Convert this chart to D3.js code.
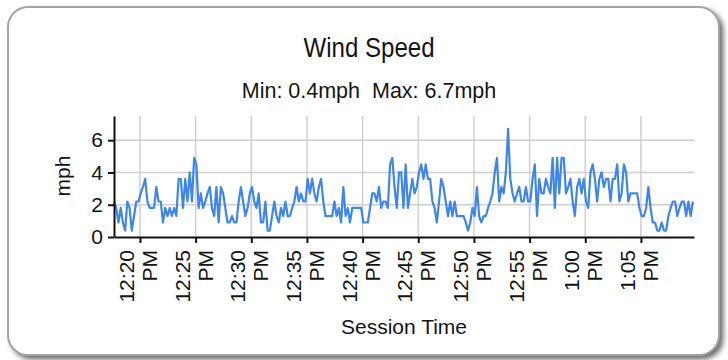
<!DOCTYPE html>
<html><head><meta charset="utf-8">
<script src="https://cdn.jsdelivr.net/npm/d3@7"></script>
<style>
body{margin:0;background:#fff}
text{font-family:"Liberation Sans",Arial,Helvetica,sans-serif;fill:#141414}
</style>
</head><body>
<svg id="chart" width="728" height="360"></svg>
<script>
// ---- data ----
const startTime = new Date(2020, 0, 1, 12, 17, 40);
const endTime = new Date(2020, 0, 1, 13, 9, 46);
const stepSeconds = 12;
const speedValues = [
  2.2,1.8,0.9,1.8,0.9,0.4,2.2,1.8,0.4,1.3,2.2,2.2,2.7,3.1,3.6,2.2,1.8,1.8,1.8,3.1,2.2,2.2,0.9,1.8,1.3,1.8,1.3,1.8,1.3,3.6,3.6,1.8,3.6,2.2,4.0,2.2,4.9,4.5,1.8,2.7,1.8,2.2,2.7,3.1,
  1.8,1.3,3.1,0.9,3.1,2.7,1.8,0.9,0.9,1.3,0.9,0.9,2.2,3.1,2.2,1.3,1.8,2.7,3.1,2.2,1.8,2.7,0.9,0.9,2.2,0.4,0.4,1.3,2.2,1.3,0.9,1.8,1.3,2.2,1.3,1.3,1.8,2.2,3.1,2.2,2.7,2.2,2.2,3.6,
  2.7,3.6,2.7,2.2,3.1,3.6,2.2,1.3,1.3,1.3,1.3,2.2,1.3,1.8,0.9,3.1,1.3,1.8,0.9,1.8,1.8,1.8,1.8,1.8,0.9,0.9,0.9,1.8,2.7,2.7,2.2,3.1,1.8,2.2,2.2,1.8,4.5,4.9,3.1,1.8,4.0,4.0,1.8,4.5,
  1.8,2.7,3.6,2.7,3.1,4.0,4.5,3.6,4.5,3.6,3.6,2.2,1.8,0.9,2.2,3.6,3.1,2.2,1.3,2.2,1.3,2.2,1.3,1.3,1.3,1.3,0.9,0.4,0.9,1.8,1.3,3.1,1.3,0.9,1.3,1.3,1.8,2.2,2.7,4.0,4.9,2.2,3.1,2.7,
  4.0,6.7,3.6,2.7,2.2,2.7,3.1,2.2,2.2,3.1,2.2,2.2,3.6,4.5,1.3,3.6,2.7,2.7,3.6,3.1,2.7,4.9,1.8,4.9,2.7,4.9,4.9,2.7,3.1,3.6,2.2,1.3,3.1,3.6,2.7,3.6,2.2,1.8,4.0,4.5,3.6,2.2,3.6,4.0,
  3.1,3.6,3.6,2.2,3.6,3.6,4.5,2.2,2.7,4.5,4.0,2.2,2.7,2.7,2.7,2.7,1.8,1.3,1.3,1.8,3.1,1.8,0.9,0.9,0.4,0.4,0.9,0.4,0.4,1.3,1.8,2.2,2.2,1.3,1.8,2.2,2.2,1.3,2.2,1.3,2.2
];
const yTickValues = [0, 2, 4, 6];
const yMax = 7.5;
const titleText = "Wind Speed";
const xAxisTitle = "Session Time";
const yAxisTitle = "mph";
const unit = "mph";

// ---- build ----
const data = speedValues.map((v, i) => ({ t: new Date(startTime.getTime() + i * stepSeconds * 1000), v }));

const svg = d3.select("#chart");
const plot = { left: 114, right: 694, top: 116, bottom: 237 };

// card with shadow
const defs = svg.append("defs");
const f = defs.append("filter").attr("id", "sh").attr("x", "-5%").attr("y", "-5%").attr("width", "112%").attr("height", "118%");
f.append("feDropShadow").attr("dx", 3.5).attr("dy", 3.5).attr("stdDeviation", 2.5)
  .attr("flood-color", "#4a4a4a").attr("flood-opacity", 0.8);
svg.append("rect").attr("x", 8).attr("y", 7).attr("width", 711).attr("height", 348)
  .attr("rx", 20).attr("ry", 20).attr("fill", "#fff")
  .attr("stroke", "#a3a3a3").attr("stroke-width", 2).attr("filter", "url(#sh)");

const x = d3.scaleTime().domain([startTime, endTime]).range([plot.left, plot.right]);
const y = d3.scaleLinear().domain([0, yMax]).range([plot.bottom, plot.top]);
const xTicks = x.ticks(d3.timeMinute.every(5));

// gridlines
svg.append("g").selectAll("line").data(yTickValues.filter(d => d > 0)).join("line")
  .attr("x1", plot.left).attr("x2", plot.right)
  .attr("y1", d => y(d)).attr("y2", d => y(d))
  .attr("stroke", "#cfcfcf").attr("stroke-width", 1.5);
svg.append("g").selectAll("line").data(xTicks).join("line")
  .attr("x1", d => x(d)).attr("x2", d => x(d))
  .attr("y1", plot.top).attr("y2", plot.bottom)
  .attr("stroke", "#cfcfcf").attr("stroke-width", 1.5);

// line
svg.append("path").datum(data)
  .attr("fill", "none").attr("stroke", "#3f86e8").attr("stroke-width", 2.2)
  .attr("stroke-linejoin", "round")
  .attr("d", d3.line().x(d => x(d.t)).y(d => y(d.v)));

// axes
const yAxis = svg.append("g").attr("transform", `translate(${plot.left},0)`)
  .call(d3.axisLeft(y).tickValues(yTickValues).tickSize(6).tickSizeOuter(0).tickPadding(5).tickFormat(d3.format("d")));
const xAxis = svg.append("g").attr("transform", `translate(0,${plot.bottom})`)
  .call(d3.axisBottom(x).tickValues(xTicks).tickSize(6).tickSizeOuter(0).tickFormat(""));
[yAxis, xAxis].forEach(a => {
  a.select(".domain").attr("stroke", "#111").attr("stroke-width", 2);
  a.selectAll(".tick line").attr("stroke", "#111").attr("stroke-width", 2);
});
yAxis.selectAll(".tick text").style("font-size", "21px").attr("fill", "#141414")
  .style("font-family", "'Liberation Sans',Arial,sans-serif");

// x tick labels (rotated, two lines)
const fmtTime = d3.timeFormat("%-I:%M"), fmtAmPm = d3.timeFormat("%p");
const lab = svg.append("g").selectAll("g").data(xTicks).join("g")
  .attr("transform", d => `translate(${x(d)},250) rotate(-90)`);
lab.append("text").attr("text-anchor", "end").attr("x", 0).attr("y", -6)
  .style("font-size", "21px").text(d => fmtTime(d));
lab.append("text").attr("text-anchor", "end").attr("x", 0).attr("y", 17)
  .style("font-size", "21px").text(d => fmtAmPm(d));

// titles
svg.append("g").attr("transform", "translate(369,57) scale(0.86,1)")
  .append("text").attr("text-anchor", "middle").style("font-size", "28px").text(titleText);
svg.append("text").attr("x", 369).attr("y", 97.5).attr("text-anchor", "middle")
  .style("font-size", "21.5px").style("white-space", "pre")
  .text(`Min: ${d3.min(speedValues)}${unit}  Max: ${d3.max(speedValues)}${unit}`);
svg.append("text").attr("transform", "translate(70,176) rotate(-90)").attr("text-anchor", "middle")
  .style("font-size", "21px").text(yAxisTitle);
svg.append("text").attr("x", 404).attr("y", 334).attr("text-anchor", "middle")
  .style("font-size", "21px").text(xAxisTitle);
</script>
</body></html>
